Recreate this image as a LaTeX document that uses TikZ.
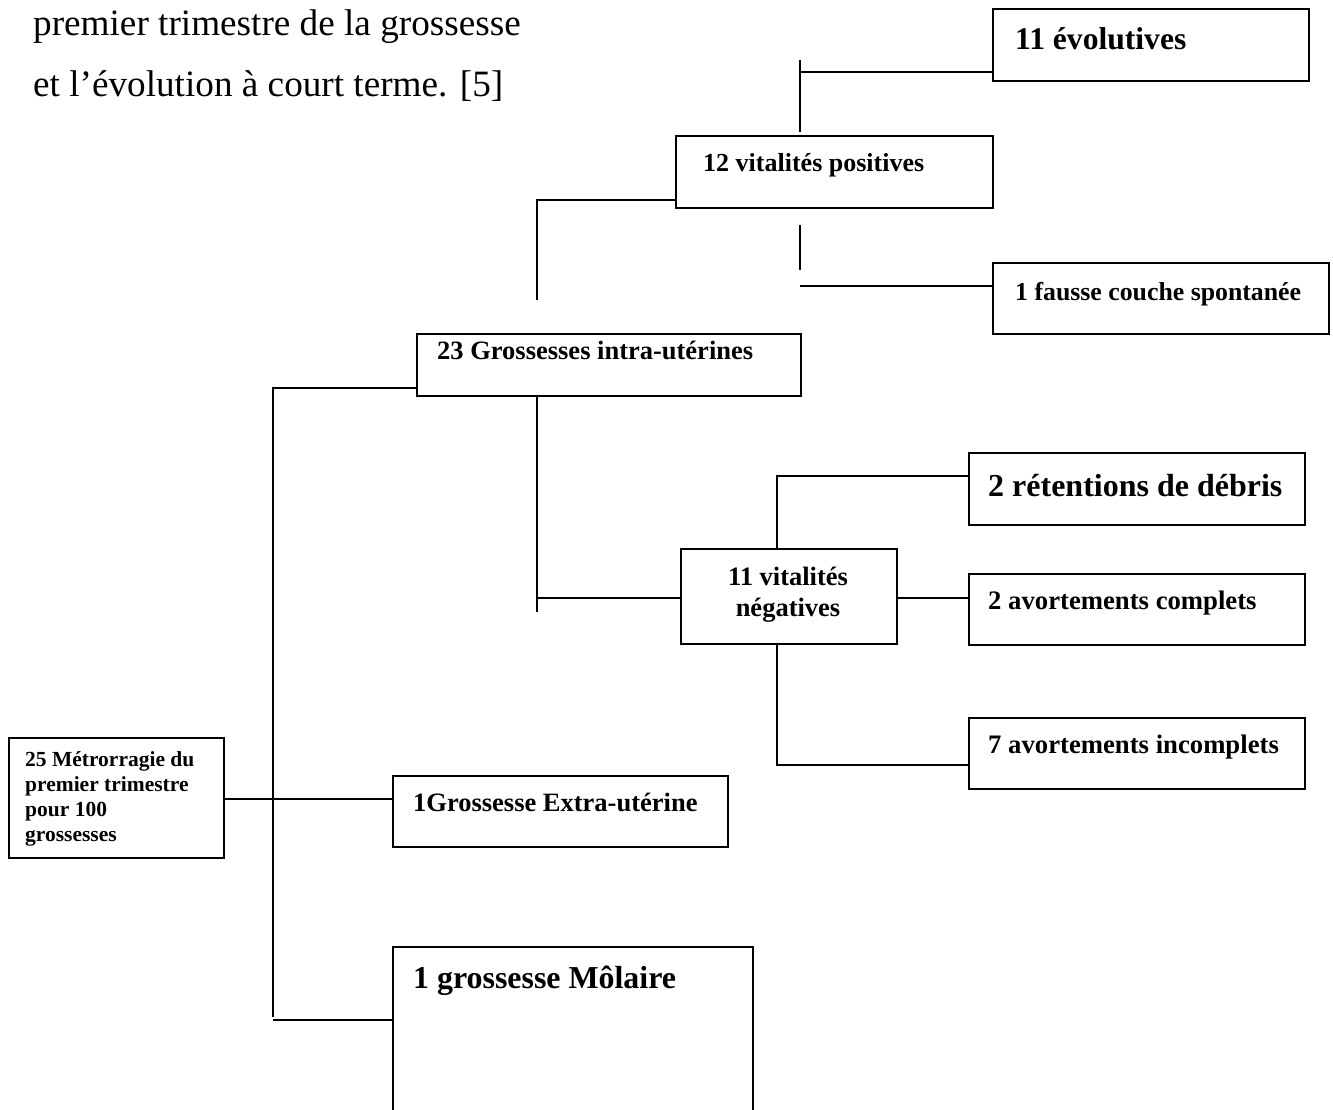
\documentclass[tikz,border=0pt]{standalone}
\usepackage{fontspec}
\setmainfont{Liberation Serif}
\begin{document}
\begin{tikzpicture}[x=1pt,y=-1pt,
  box/.style={draw, line width=1.8pt, anchor=north west, inner sep=0pt},
  lbl/.style={inner sep=0pt, anchor=base west},
  conn/.style={line width=1.8pt},
  fs/.style={font=\bfseries\fontsize{#1}{#1}\selectfont}]
\clip (0,0) rectangle (1333,1110);
\fill[white] (0,0) rectangle (1333,1110);
% title
\node[lbl, font=\fontsize{37.2}{44}\selectfont] (h1) at (33,36) {premier trimestre de la grossesse};
\node[lbl, font=\fontsize{37.2}{44}\selectfont] (h2) at (33,97) {et l’évolution à court terme. [5]};
% boxes
\node[box, minimum width=316pt, minimum height=72pt] (b1) at (992,8) {};
\node[lbl, fs=31.6] (t1) at (1015,50) {11 évolutives};
\node[box, minimum width=317pt, minimum height=72pt] (b2) at (675,135) {};
\node[lbl, fs=26] (t2) at (703,172) {12 vitalités positives};
\node[box, minimum width=336pt, minimum height=71pt] (b3) at (992,262) {};
\node[lbl, fs=25.8] (t3) at (1015,300) {1 fausse couche spontanée};
\node[box, minimum width=384pt, minimum height=62pt] (b4) at (416,333) {};
\node[lbl, fs=26.5] (t4) at (437,359) {23 Grossesses intra-utérines};
\node[box, minimum width=216pt, minimum height=95pt] (b5) at (680,548) {};
\node[fs=26.5, inner sep=0pt, anchor=base] (t5a) at (788,585) {11 vitalités};
\node[fs=26.5, inner sep=0pt, anchor=base] (t5b) at (788,616) {négatives};
\node[box, minimum width=336pt, minimum height=72pt] (b6) at (968,452) {};
\node[lbl, fs=32] (t6) at (988,496) {2 rétentions de débris};
\node[box, minimum width=336pt, minimum height=71pt] (b7) at (968,573) {};
\node[lbl, fs=26.7] (t7) at (988,609) {2 avortements complets};
\node[box, minimum width=336pt, minimum height=71pt] (b8) at (968,717) {};
\node[lbl, fs=26.7] (t8) at (988,753) {7 avortements incomplets};
\node[box, minimum width=215pt, minimum height=120pt] (b0) at (8,737) {};
\node[lbl, fs=21.5] (t0a) at (25,766) {25 Métrorragie du};
\node[lbl, fs=21.5] (t0b) at (25,791) {premier trimestre};
\node[lbl, fs=21.5] (t0c) at (25,816) {pour 100};
\node[lbl, fs=21.5] (t0d) at (25,841) {grossesses};
\node[box, minimum width=335pt, minimum height=71pt] (b9) at (392,775) {};
\node[lbl, fs=26.5] (t9) at (413,811) {1Grossesse Extra-utérine};
\node[box, minimum width=360pt, minimum height=220pt] (b10) at (392,946) {};
\node[lbl, fs=31.9] (t10) at (413,988) {1 grossesse Môlaire};
% free ends
\coordinate (p1) at (800,60);
\coordinate (p2) at (800,132);
\coordinate (p3) at (800,72);
\coordinate (q1) at (800,225);
\coordinate (q2) at (800,270);
\coordinate (q3) at (800,286);
\coordinate (r1) at (537,200);
\coordinate (r2) at (537,300);
\coordinate (s1) at (537,612);
\coordinate (s2) at (537,598);
\coordinate (u1) at (777,476);
\coordinate (u2) at (777,765);
\coordinate (v1) at (273,388);
\coordinate (v2) at (273,1017);
\coordinate (v3) at (273,1020);
% connectors
\draw[conn] (p1) -- (p2);
\draw[conn] (p3) -- (b1.west |- p3);
\draw[conn] (q1) -- (q2);
\draw[conn] (q3) -- (b3.west |- q3);
\draw[conn] (r2) -- (r1) -- (b2.west |- r1);
\draw[conn] (b4.south -| s1) -- (s1);
\draw[conn] (s2) -- (b5.west |- s2);
\draw[conn] (b5.north -| u1) -- (u1) -- (b6.west |- u1);
\draw[conn] (b5.east |- s2) -- (b7.west |- s2);
\draw[conn] (b5.south -| u2) -- (u2) -- (b8.west |- u2);
\draw[conn] (b0.east |- 0,799) -- (b9.west |- 0,799);
\draw[conn] (v2) -- (v1) -- (b4.west |- v1);
\draw[conn] (v3) -- (b10.west |- v3);
\end{tikzpicture}
\end{document}
